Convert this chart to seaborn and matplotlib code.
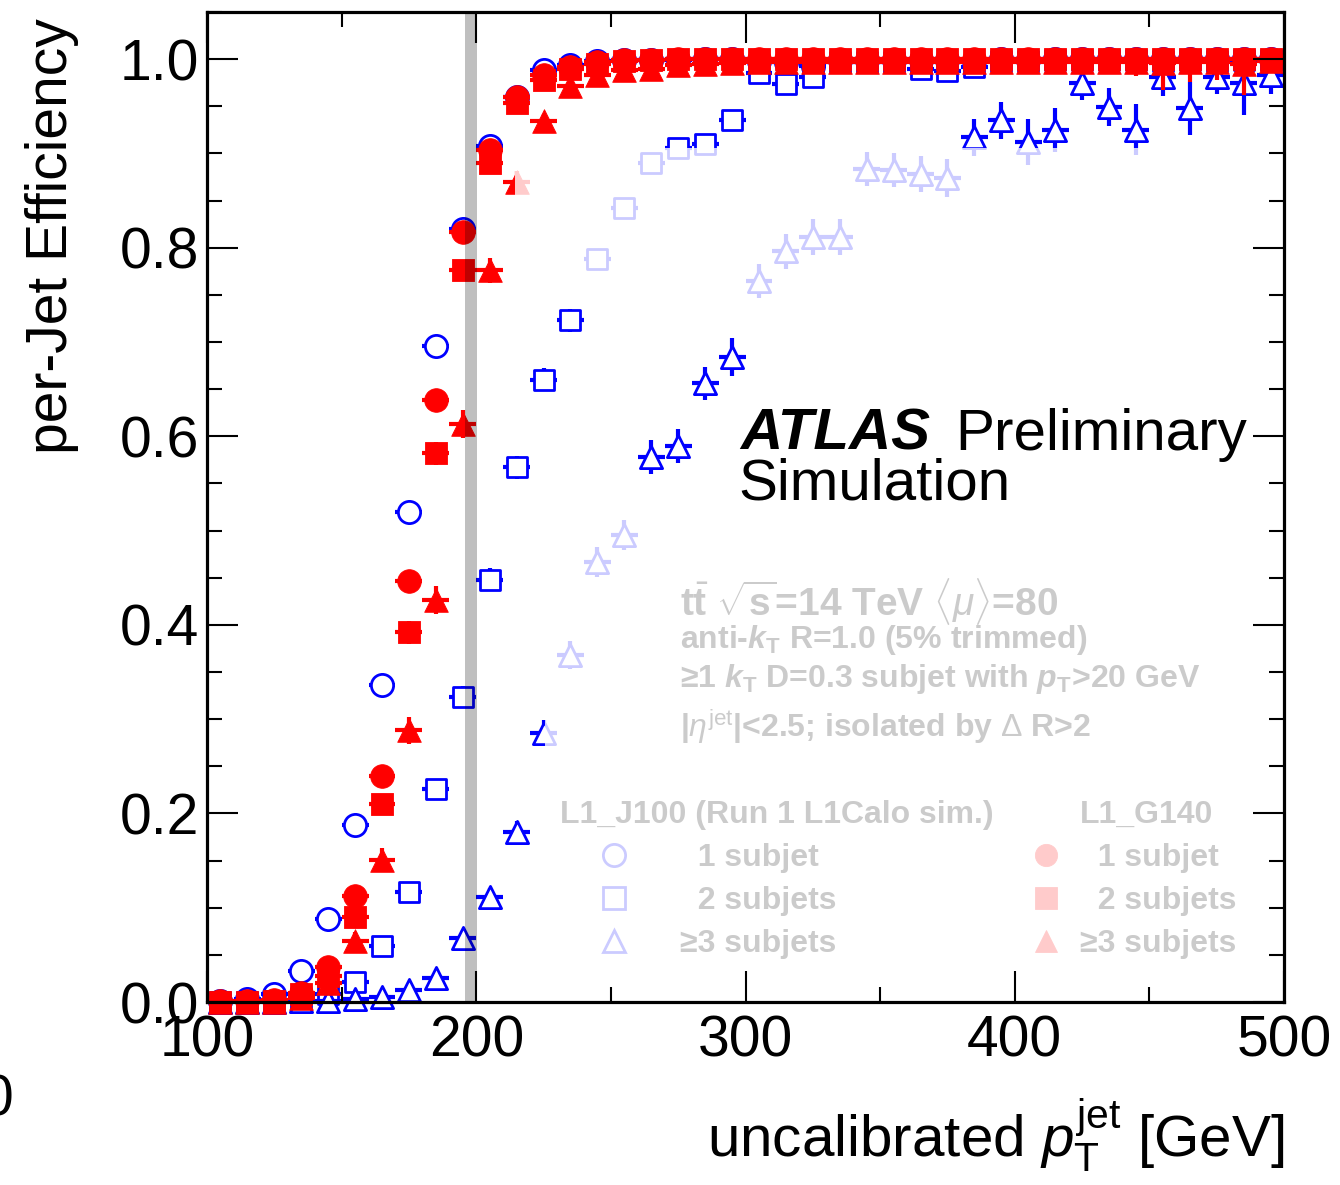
import matplotlib
matplotlib.use("Agg")
import matplotlib.pyplot as plt
import seaborn as sns
from matplotlib.lines import Line2D
from matplotlib.patches import Rectangle
from matplotlib.ticker import MultipleLocator, FormatStrFormatter

# ---------------------------------------------------------------- data
pt_bins = [105, 115, 125, 135, 145, 155, 165, 175, 185, 195,
           205, 215, 225, 235, 245, 255, 265, 275, 285, 295,
           305, 315, 325, 335, 345, 355, 365, 375, 385, 395,
           405, 415, 425, 435, 445, 455, 465, 475, 485, 495]
bin_half_width = 5

# L1_J100 (Run 1 L1Calo sim.)
eff_j100_1sub = [0.001, 0.003, 0.009, 0.033, 0.088, 0.188, 0.336, 0.520, 0.696, 0.820,
                 0.908, 0.960, 0.989, 0.994, 0.998, 0.999, 0.999, 0.999, 1.000, 1.000,
                 0.998, 0.997, 0.993, 0.999, 0.999, 0.999, 0.999, 0.999, 0.998, 1.000,
                 0.999, 1.000, 1.000, 1.000, 1.000, 1.000, 1.000, 1.000, 1.000, 1.000]
err_j100_1sub = [0.001, 0.002, 0.003, 0.005, 0.007, 0.009, 0.010, 0.011, 0.010, 0.009,
                 0.007, 0.005, 0.003, 0.003, 0.002, 0.002, 0.002, 0.002, 0.001, 0.001,
                 0.002, 0.003, 0.004, 0.002, 0.002, 0.002, 0.002, 0.002, 0.003, 0.001,
                 0.002, 0.001, 0.001, 0.001, 0.001, 0.001, 0.001, 0.001, 0.001, 0.001]

eff_j100_2sub = [0.000, 0.000, 0.001, 0.004, 0.008, 0.021, 0.059, 0.117, 0.226, 0.324,
                 0.448, 0.567, 0.660, 0.723, 0.788, 0.842, 0.890, 0.906, 0.910, 0.935,
                 0.985, 0.974, 0.981, 0.997, 0.997, 0.997, 0.990, 0.987, 0.992, 0.998,
                 0.998, 0.999, 0.999, 0.999, 0.999, 0.998, 0.999, 0.998, 0.999, 0.999]
err_j100_2sub = [0.001, 0.001, 0.001, 0.002, 0.003, 0.004, 0.006, 0.008, 0.010, 0.011,
                 0.012, 0.012, 0.012, 0.012, 0.011, 0.011, 0.010, 0.010, 0.010, 0.009,
                 0.006, 0.007, 0.007, 0.003, 0.003, 0.003, 0.005, 0.006, 0.005, 0.002,
                 0.002, 0.002, 0.002, 0.002, 0.002, 0.002, 0.002, 0.002, 0.002, 0.002]

eff_j100_3sub = [0.000, 0.000, 0.000, 0.001, 0.001, 0.003, 0.005, 0.013, 0.025, 0.068,
                 0.111, 0.180, 0.285, 0.368, 0.467, 0.495, 0.578, 0.590, 0.656, 0.684,
                 0.765, 0.796, 0.811, 0.811, 0.883, 0.882, 0.878, 0.874, 0.917, 0.935,
                 0.912, 0.925, 0.975, 0.949, 0.925, 0.981, 0.948, 0.981, 0.975, 0.983]
err_j100_3sub = [0.001, 0.001, 0.001, 0.002, 0.002, 0.003, 0.003, 0.004, 0.005, 0.008,
                 0.010, 0.012, 0.014, 0.015, 0.016, 0.016, 0.018, 0.018, 0.018, 0.020,
                 0.018, 0.019, 0.019, 0.019, 0.018, 0.018, 0.019, 0.020, 0.020, 0.020,
                 0.024, 0.023, 0.018, 0.020, 0.027, 0.020, 0.028, 0.018, 0.034, 0.020]

# L1_G140
eff_g140_1sub = [0.001, 0.001, 0.002, 0.010, 0.037, 0.112, 0.240, 0.446, 0.638, 0.817,
                 0.904, 0.960, 0.983, 0.992, 0.997, 0.999, 0.999, 1.000, 1.000, 1.000,
                 1.000, 1.000, 1.000, 1.000, 1.000, 1.000, 1.000, 1.000, 1.000, 1.000,
                 1.000, 1.000, 1.000, 1.000, 1.000, 1.000, 1.000, 1.000, 1.000, 1.000]
err_g140_1sub = [0.001, 0.001, 0.001, 0.003, 0.005, 0.008, 0.010, 0.011, 0.011, 0.009,
                 0.007, 0.005, 0.003, 0.002, 0.002, 0.001, 0.001, 0.001, 0.001, 0.001,
                 0.001, 0.001, 0.001, 0.001, 0.001, 0.001, 0.001, 0.001, 0.001, 0.001,
                 0.001, 0.001, 0.001, 0.001, 0.001, 0.001, 0.001, 0.001, 0.001, 0.001]

eff_g140_2sub = [0.000, 0.000, 0.001, 0.008, 0.028, 0.090, 0.210, 0.392, 0.582, 0.776,
                 0.890, 0.953, 0.978, 0.990, 0.995, 0.998, 0.999, 1.000, 1.000, 1.000,
                 1.000, 1.000, 1.000, 1.000, 1.000, 1.000, 1.000, 1.000, 1.000, 1.000,
                 1.000, 1.000, 1.000, 1.000, 1.000, 1.000, 1.000, 1.000, 1.000, 1.000]
err_g140_2sub = [0.001, 0.001, 0.001, 0.003, 0.005, 0.008, 0.010, 0.012, 0.012, 0.010,
                 0.008, 0.006, 0.004, 0.003, 0.002, 0.002, 0.001, 0.001, 0.001, 0.001,
                 0.001, 0.001, 0.001, 0.001, 0.001, 0.001, 0.001, 0.001, 0.001, 0.001,
                 0.001, 0.001, 0.001, 0.001, 0.001, 0.001, 0.001, 0.001, 0.001, 0.001]

eff_g140_3sub = [0.000, 0.000, 0.000, 0.004, 0.020, 0.065, 0.151, 0.288, 0.426, 0.613,
                 0.776, 0.870, 0.934, 0.972, 0.983, 0.988, 0.990, 0.994, 0.995, 0.996,
                 0.997, 0.997, 0.997, 0.997, 0.997, 0.997, 0.997, 0.997, 0.997, 0.997,
                 0.997, 0.997, 0.997, 0.997, 0.997, 0.996, 0.997, 0.997, 0.995, 0.998]
# efficiency errors are asymmetric near 100 %
err_g140_3sub_lo = [0.001, 0.001, 0.001, 0.003, 0.006, 0.009, 0.012, 0.014, 0.015, 0.015,
                    0.013, 0.011, 0.009, 0.006, 0.005, 0.005, 0.005, 0.004, 0.004, 0.004,
                    0.004, 0.004, 0.004, 0.004, 0.004, 0.004, 0.004, 0.004, 0.005, 0.010,
                    0.010, 0.011, 0.011, 0.013, 0.015, 0.029, 0.021, 0.019, 0.033, 0.008]
err_g140_3sub_hi = [0.001, 0.001, 0.001, 0.003, 0.006, 0.009, 0.012, 0.014, 0.015, 0.015,
                    0.013, 0.011, 0.008, 0.006, 0.005, 0.004, 0.004, 0.003, 0.003, 0.003,
                    0.002, 0.002, 0.002, 0.002, 0.002, 0.002, 0.002, 0.002, 0.002, 0.002,
                    0.002, 0.002, 0.002, 0.002, 0.002, 0.003, 0.002, 0.002, 0.004, 0.002]

subjet_labels = ["1 subjet", "2 subjets", "\u22653 subjets"]
trigger_j100 = "L1_J100 (Run 1 L1Calo sim.)"
trigger_g140 = "L1_G140"
threshold_band = (195.8, 200.2)

# ---------------------------------------------------------------- style
sns.set_theme(style="ticks", rc={
    "axes.edgecolor": "black", "xtick.color": "black", "ytick.color": "black",
    "text.color": "black", "axes.labelcolor": "black",
})
plt.rcParams["font.family"] = ["Liberation Sans", "DejaVu Sans"]
plt.rcParams.update({
    "mathtext.fontset": "custom",
    "mathtext.rm": "Liberation Sans",
    "mathtext.sf": "Liberation Sans",
    "mathtext.it": "Liberation Sans:italic",
    "mathtext.bf": "Liberation Sans:bold",
    "mathtext.bfit": "Liberation Sans:bold:italic",
})

W, H, DPI = 1340, 1185, 100
fig = plt.figure(figsize=(W / DPI, H / DPI), dpi=DPI, facecolor="white")


def fx(px):
    return px / W


def fy(py):
    return 1 - py / H


ax = fig.add_axes([fx(207), fy(1002), (1284 - 207) / W, (1002 - 12) / H])
ax.set_facecolor("white")

BLUE, RED = "#0000ff", "#ff0000"
series = [
    # (values, errors, colour, marker, size, hollow)
    (eff_j100_1sub, err_j100_1sub, BLUE, "o", 16, True),
    (eff_j100_2sub, err_j100_2sub, BLUE, "s", 15, True),
    (eff_j100_3sub, err_j100_3sub, BLUE, "^", 16, True),
    (eff_g140_1sub, err_g140_1sub, RED, "o", 17, False),
    (eff_g140_3sub, [err_g140_3sub_lo, err_g140_3sub_hi], RED, "^", 17, False),
    (eff_g140_2sub, err_g140_2sub, RED, "s", 16, False),
]

z = 2.0
for vals, errs, col, mk, ms, hollow in series:
    ax.errorbar(pt_bins, vals, xerr=bin_half_width, yerr=errs, fmt="none",
                ecolor=col, elinewidth=3.0, capsize=0, zorder=z)
    sns.scatterplot(x=pt_bins, y=vals, ax=ax, marker=mk, s=ms ** 2,
                    color="white" if hollow else col, edgecolor=col,
                    linewidth=2.0 if hollow else 0.6, zorder=z + 0.5,
                    clip_on=False, legend=False)
    z += 1.0

# grey threshold band, semi-transparent over the markers
ax.axvspan(*threshold_band, color="black", alpha=0.25, lw=0, zorder=9)

# translucent white panes behind the annotation area
ax.add_patch(Rectangle((214.4, 0.744), 489.0 - 214.4, 0.906 - 0.744,
                       facecolor="white", edgecolor="none", alpha=0.8, zorder=10))
ax.add_patch(Rectangle((225.5, 0.039), 489.0 - 225.5, 0.532 - 0.039,
                       facecolor="white", edgecolor="none", alpha=0.8, zorder=10))

# ---------------------------------------------------------------- axes
ax.set_xlim(100, 500)
ax.set_ylim(0, 1.05)
ax.xaxis.set_major_locator(MultipleLocator(100))
ax.xaxis.set_minor_locator(MultipleLocator(50))
ax.yaxis.set_major_locator(MultipleLocator(0.2))
ax.yaxis.set_minor_locator(MultipleLocator(0.05))
ax.yaxis.set_major_formatter(FormatStrFormatter("%.1f"))
ax.xaxis.set_major_formatter(FormatStrFormatter("%d"))
ax.tick_params(which="both", direction="in", top=True, right=True,
               width=1.5, labelsize=41)
ax.tick_params(which="major", length=22)
ax.tick_params(which="minor", length=11)
ax.tick_params(axis="x", which="major", pad=9)
ax.tick_params(axis="y", which="major", pad=5.5)
for sp in ax.spines.values():
    sp.set_linewidth(2.3)
    sp.set_zorder(30)
ax.xaxis.set_zorder(30)
ax.yaxis.set_zorder(30)

ax.set_ylabel("per-Jet Efficiency", loc="top", fontsize=41)
ax.yaxis.set_label_coords(-0.119, 0.994)
ax.set_xlabel(r"uncalibrated $p_{\mathrm{T}}^{\mathrm{jet}}$ [GeV]", loc="right", fontsize=42)
ax.xaxis.set_label_coords(1.0, -0.096)

# ---------------------------------------------------------------- annotations
ftr = fig.transFigure
ax.text(fx(740), fy(450), "ATLAS", transform=ftr, fontsize=42, fontweight="bold",
        fontstyle="italic", zorder=20)
ax.text(fx(955), fy(450), "Preliminary", transform=ftr, fontsize=42, zorder=20)
ax.text(fx(738), fy(500), "Simulation", transform=ftr, fontsize=42, zorder=20)

info_kw = dict(transform=ftr, fontweight="bold", va="baseline", zorder=6)
ax.text(fx(680), fy(615),
        r"t$\bar{\mathbf{t}}$ $\sqrt{\mathbf{s}}$=14 TeV $\langle\mu\rangle$=80",
        fontsize=28, **info_kw)
ax.text(fx(680), fy(648), r"anti-$\mathbfit{k}_{\mathbf{T}}$ R=1.0 (5% trimmed)",
        fontsize=23, **info_kw)
ax.text(fx(680), fy(687),
        "\u22651 $\\mathbfit{k}_{\\mathbf{T}}$ D=0.3 subjet with $\\mathbfit{p}_{\\mathbf{T}}$>20 GeV",
        fontsize=23, **info_kw)
ax.text(fx(680), fy(737), r"|$\eta^{\mathrm{jet}}$|<2.5; isolated by $\Delta$ R>2",
        fontsize=23, **info_kw)

ax.text(fx(560), fy(823), trigger_j100, fontsize=23, **info_kw)
ax.text(fx(1080), fy(823), trigger_g140, fontsize=23, **info_kw)

# legend keys
shapes = ["o", "s", "^"]
j100_handles = [Line2D([], [], ls="none", marker=m, ms=16, mfc="white", mec=BLUE, mew=2.0)
                for m in shapes]
g140_handles = [Line2D([], [], ls="none", marker=m, ms=16, mfc=RED, mec=RED, mew=0.6)
                for m in shapes]
j100_text = ["  " + subjet_labels[0], "  " + subjet_labels[1], subjet_labels[2]]
g140_text = ["  " + subjet_labels[0], "  " + subjet_labels[1], subjet_labels[2]]

leg_kw = dict(loc="upper left", bbox_transform=ftr, frameon=False,
              prop={"weight": "bold", "size": 23}, labelspacing=0.41,
              borderpad=0, borderaxespad=0, handleheight=0.7)
leg1 = ax.legend(j100_handles, j100_text, bbox_to_anchor=(fx(582), fy(843)),
                 handlelength=2.0, handletextpad=1.07, **leg_kw)
leg1.set_zorder(6)
ax.add_artist(leg1)
leg2 = ax.legend(g140_handles, g140_text, bbox_to_anchor=(fx(1030), fy(843)),
                 handlelength=1.0, handletextpad=0.57, **leg_kw)
leg2.set_zorder(6)

# clipped tick label at the lower-left edge of the canvas
ax.text(fx(13), fy(1116), "0", transform=ftr, fontsize=41, ha="right",
        va="baseline", clip_on=False)

fig.savefig("out.png", dpi=DPI, facecolor="white")
